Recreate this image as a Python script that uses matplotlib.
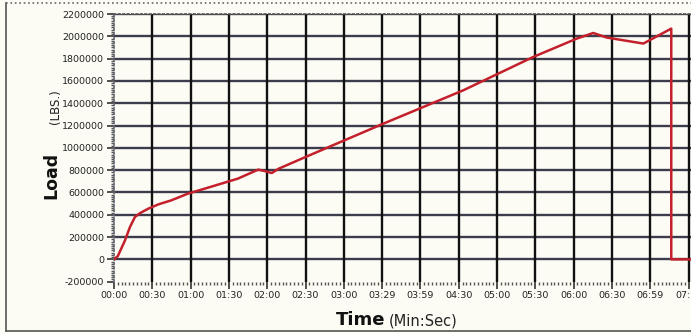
import matplotlib
matplotlib.use("Agg")
import matplotlib.pyplot as plt
from matplotlib.ticker import FixedLocator, MultipleLocator
from matplotlib.lines import Line2D

# ---- data ----
time_s = [0, 3, 8.6, 12.5, 16.4, 20.4, 26.9, 34.7, 45, 58, 71, 97, 113, 118,
          123.5, 129, 150, 211, 273.6, 328.4, 362.4, 375.4, 385.9, 414.6,
          436.5, 436.5, 455]
load_lbs = [0, 30000, 170000, 290000, 380000, 415000, 455000, 493000, 530000,
            590000, 634000, 724000, 805000, 792000, 774000, 813000, 918000,
            1217000, 1516000, 1815000, 1979000, 2030000, 1989000, 1935000,
            2069000, 0, 0]
x_tick_pos = [0, 30, 60, 90, 120, 150, 180, 210, 240, 270, 300, 330, 360, 390, 420, 450]
x_tick_labels = ["00:00", "00:30", "01:00", "01:30", "02:00", "02:30", "03:00",
                 "03:29", "03:59", "04:30", "05:00", "05:30", "06:00", "06:30",
                 "06:59", "07:29"]
y_ticks = list(range(-200000, 2200001, 200000))

W, H = 691, 333
bg = "#fcfcf4"
fig = plt.figure(figsize=(W / 100, H / 100), dpi=100, facecolor=bg)
left, right, top, bottom = 114, 691, 14, 281.7
ax = fig.add_axes([left / W, 1 - bottom / H, (right - left) / W, (bottom - top) / H])
ax.set_facecolor(bg)

ax.plot(time_s, load_lbs, color="#c4202c", lw=1.8, solid_joinstyle="round", zorder=5)

ax.set_xlim(0, (right - left) / 38.3 * 30)
ax.set_ylim(-200000, 2200000)

ax.xaxis.set_major_locator(FixedLocator(x_tick_pos))
ax.set_xticklabels(x_tick_labels, fontsize=6.8, color="#222222")
ax.xaxis.set_minor_locator(MultipleLocator(3))
ax.yaxis.set_major_locator(FixedLocator(y_ticks))
ax.set_yticklabels([str(v) for v in y_ticks], fontsize=6.8, color="#222222")
ax.yaxis.set_minor_locator(MultipleLocator(20000))

ax.tick_params(axis="both", which="major", length=5, width=1.2, color="#333333", pad=2)
ax.tick_params(axis="both", which="minor", length=2.5, width=1.0, color="#555555")

# grid
for v in y_ticks[1:]:
    ax.axhline(v, color="#3c3c4c", lw=1.7, zorder=1)
for t in x_tick_pos[1:]:
    ax.axvline(t, color="#111111", lw=1.7, zorder=1)

for s in ["right", "bottom"]:
    ax.spines[s].set_visible(False)
ax.spines["left"].set_color("#666677")
ax.spines["left"].set_linestyle(":")
ax.spines["left"].set_linewidth(1.2)
ax.spines["top"].set_color("#555555")
ax.spines["top"].set_linestyle(":")
ax.spines["top"].set_linewidth(1.2)

# axis titles
fig.text(336 / W, 1 - 325 / H, "Time", fontsize=13, fontweight="bold",
         ha="left", va="baseline", color="#111111")
fig.text(389 / W, 1 - 325 / H, "(Min:Sec)", fontsize=10.5,
         ha="left", va="baseline", color="#222222")
fig.text(56 / W, 1 - 199 / H, "Load", fontsize=12.5, fontweight="bold",
         rotation=90, rotation_mode="anchor", ha="left", va="baseline", color="#111111")
fig.text(59 / W, 1 - 124 / H, "(LBS.)", fontsize=8.5,
         rotation=90, rotation_mode="anchor", ha="left", va="baseline", color="#222222")

# outer frame
fig.add_artist(Line2D([6 / W, 6 / W], [1 - 331 / H, 1 - 3 / H], transform=fig.transFigure,
                      color="#555555", lw=1.2))
fig.add_artist(Line2D([6 / W, 1], [1 - 331 / H, 1 - 331 / H], transform=fig.transFigure,
                      color="#555555", lw=1.2))
fig.add_artist(Line2D([6 / W, 1], [1 - 3 / H, 1 - 3 / H], transform=fig.transFigure,
                      color="#666666", lw=1.2, ls=":"))

fig.savefig("out.png", dpi=100, facecolor=bg)
